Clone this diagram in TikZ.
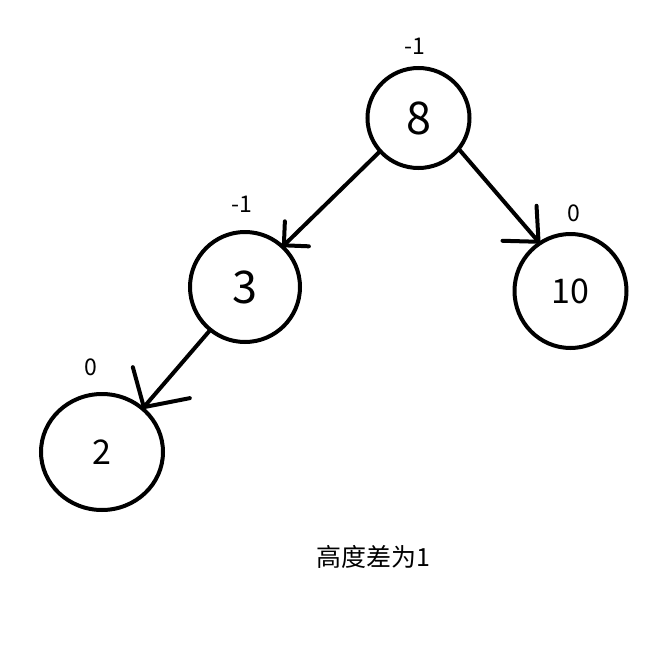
\documentclass[tikz,border=0pt]{standalone}
\usepackage{fontspec}
\setmainfont{Noto Sans CJK SC}
\usetikzlibrary{shapes.geometric}
\begin{document}
\begin{tikzpicture}[x=1pt,y=-1pt,
  treenode/.style={draw, ellipse, line width=4pt, inner sep=0pt},
  big/.style={font=\fontsize{45}{48}\selectfont},
  mid/.style={font=\fontsize{34}{38}\selectfont},
  lbl/.style={font=\fontsize{23}{26}\selectfont, inner sep=0pt},
  edge/.style={line width=4pt, line cap=round, line join=round}]
\useasboundingbox[fill=white] (0,0) rectangle (657,651);
\node[treenode, big, minimum width=102pt, minimum height=100pt] (n8) at (418.5,118) {\raisebox{-3pt}{8}};
\node[treenode, big, minimum width=110pt, minimum height=110pt] (n3) at (245,287) {\raisebox{-4pt}{3}};
\node[treenode, mid, minimum width=112pt, minimum height=114pt] (n10) at (570.5,291) {\raisebox{-1pt}{10}};
\node[treenode, mid, minimum width=122pt, minimum height=116pt] (n2) at (102,452) {\raisebox{-3pt}{2}};
\node[lbl] (l8) at (415,46) {-1};
\node[lbl] (l3) at (242,204) {-1};
\node[lbl] (l10) at (574,213) {0};
\node[lbl] (l2) at (91,367) {0};
\node[font=\fontsize{25}{28}\selectfont, inner sep=0pt] (cap) at (373,557) {高度差为1};
\coordinate (t3) at (n3.47);
\coordinate (t10) at (n10.123);
\coordinate (t2) at (n2.47);
\draw[edge] (n8.221) -- (t3);
\draw[edge] (t3) -- ++(1,-24);
\draw[edge] (t3) -- ++(25,1);
\draw[edge] (n8.322) -- (t10);
\draw[edge] (t10) -- ++(-2,-36);
\draw[edge] (t10) -- ++(-36,-1);
\draw[edge] (n3.231) -- (t2);
\draw[edge] (t2) -- ++(-11,-40);
\draw[edge] (t2) -- ++(46,-9);
\end{tikzpicture}
\end{document}
